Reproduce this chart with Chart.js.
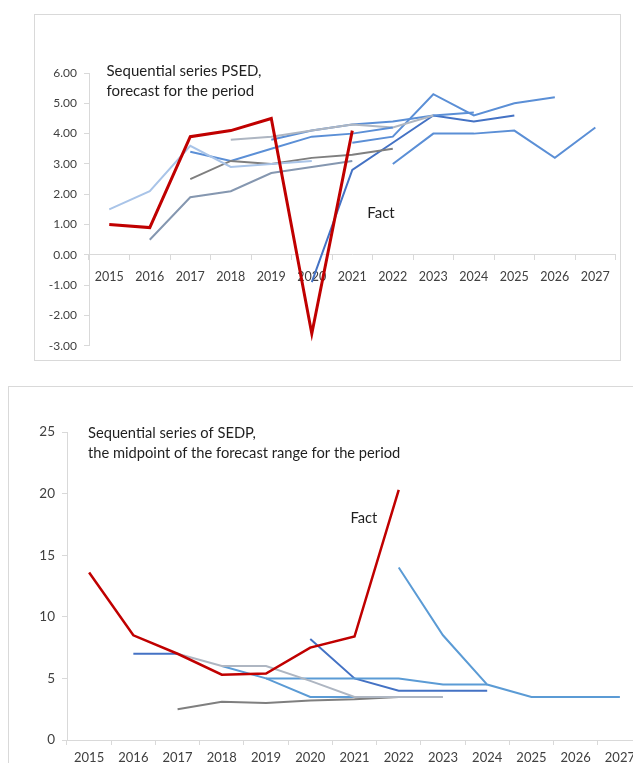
<!DOCTYPE html>
<html>
<head>
<meta charset="utf-8">
<script src="https://cdn.jsdelivr.net/npm/chart.js@4.4.0/dist/chart.umd.min.js"></script>
<style>
html, body { margin: 0; padding: 0; background: #fff; overflow: hidden; width: 633px; height: 763px; }
.box { position: absolute; border: 1px solid #D9D9D9; background: #fff; }
#box1 { left: 34px; top: 14px; width: 585px; height: 345px; }
#box2 { left: 8px; top: 386px; width: 660px; height: 400px; }
</style>
</head>
<body>
<div class="box" id="box1"><canvas id="psed"></canvas></div>
<div class="box" id="box2"><canvas id="sedp"></canvas></div>
<script>
// years on both charts
const years = ['2015','2016','2017','2018','2019','2020','2021','2022','2023','2024','2025','2026','2027'];
const _ = null;

// top chart: PSED, forecast for the period
const psedTitle = ['Sequential series PSED,', 'forecast for the period'];
const psedFact  = [1.0, 0.9, 3.9, 4.1, 4.5, -2.6, 4.1, _, _, _, _, _, _];
const psedF2015 = [1.5, 2.1, 3.6, 2.9, 3.0, 3.1, _, _, _, _, _, _, _];
const psedF2016 = [_, 0.5, 1.9, 2.1, 2.7, 2.9, 3.1, _, _, _, _, _, _];
const psedF2017a = [_, _, 2.5, 3.1, 3.0, 3.2, 3.3, 3.5, _, _, _, _, _];
const psedF2017b = [_, _, 3.4, 3.1, 3.5, 3.9, 4.0, 4.2, _, _, _, _, _];
const psedF2018 = [_, _, _, 3.8, 3.9, 4.1, 4.3, 4.2, 4.6, _, _, _, _];
const psedF2019 = [_, _, _, _, 3.8, 4.1, 4.3, 4.4, 4.6, 4.7, _, _, _];
const psedF2020 = [_, _, _, _, _, -0.9, 2.8, 3.7, 4.6, 4.4, 4.6, _, _];
const psedF2021 = [_, _, _, _, _, _, 3.7, 3.9, 5.3, 4.6, 5.0, 5.2, _];
const psedF2022 = [_, _, _, _, _, _, _, 3.0, 4.0, 4.0, 4.1, 3.2, 4.2];

// bottom chart: SEDP, midpoint of the forecast range
const sedpTitle = ['Sequential series of SEDP,', 'the midpoint of the forecast range for the period'];
const sedpFact  = [13.6, 8.5, 7.0, 5.3, 5.4, 7.5, 8.4, 20.3, _, _, _, _, _];
const sedpF2016 = [_, 7.0, 7.0, _, _, _, _, _, _, _, _, _, _];
const sedpF2017 = [_, _, 7.0, 6.0, 6.0, 4.8, 3.5, 3.5, 3.5, _, _, _, _];
const sedpF2017g = [_, _, 2.5, 3.1, 3.0, 3.2, 3.3, 3.5, _, _, _, _, _];
const sedpF2018 = [_, _, _, 6.0, 5.0, 3.5, 3.5, _, _, _, _, _, _];
const sedpF2019 = [_, _, _, _, 5.0, 5.0, 5.0, 5.0, 4.5, 4.5, _, _, _];
const sedpF2020 = [_, _, _, _, _, 8.2, 5.0, 4.0, 4.0, 4.0, _, _, _];
const sedpF2022 = [_, _, _, _, _, _, _, 14.0, 8.5, 4.5, 3.5, 3.5, 3.5];

const red = '#C00000';
const axisColor = '#D9D9D9';
const tickFont = 'Lato';

function line(data, color, width) {
    return { data: data, borderColor: color, borderWidth: width || 2, pointRadius: 0, tension: 0, fill: false };
}

// titles and the "Fact" label, placed from the chart's own scales
const notes = {
    id: 'notes',
    afterDatasetsDraw(chart, args, o) {
        const { ctx, chartArea, scales } = chart;
        ctx.save();
        ctx.font = o.size + 'px Lato';
        ctx.fillStyle = '#1F1F1F';
        ctx.textBaseline = 'middle';
        o.title.forEach((t, i) => ctx.fillText(t, chartArea.left + o.dx, chartArea.top + o.dy + i * o.lh));
        ctx.fillText('Fact', scales.x.getPixelForValue(o.fact[0]) + o.fact[2], scales.y.getPixelForValue(o.fact[1]));
        ctx.restore();
    }
};

function xAxis(size, pad, extra) {
    return Object.assign({
        offset: true,
        grid: { offset: true, drawOnChartArea: false, drawTicks: true, tickLength: 5, color: axisColor },
        border: { color: axisColor },
        ticks: { color: '#404040', font: { family: tickFont, size: size }, maxRotation: 0, autoSkip: false, padding: pad }
    }, extra);
}

new Chart(document.getElementById('psed'), {
    type: 'line',
    data: {
        labels: years,
        datasets: [
            line(psedFact, red, 3),
            line(psedF2015, '#A9C4E8'),
            line(psedF2016, '#8597B0'),
            line(psedF2017a, '#7F7F7F'),
            line(psedF2017b, '#5B8FD6'),
            line(psedF2018, '#AEB6C2'),
            line(psedF2019, '#5B8FD6'),
            line(psedF2020, '#4472C4'),
            line(psedF2021, '#5B8FD6'),
            line(psedF2022, '#5B8FD6'),
        ],
    },
    options: {
        responsive: true,
        maintainAspectRatio: false,
        animation: false,
        events: [],
        layout: { padding: { top: 58, right: 4, bottom: 8, left: 0 } },
        scales: {
            x: xAxis(12.5, 10, { position: { y: 0 }, afterFit: s => { s.height = 0; } }),
            y: {
                min: -3, max: 6,
                grid: { drawOnChartArea: false, drawTicks: true, tickLength: 5, color: axisColor },
                border: { color: axisColor },
                ticks: { stepSize: 1, color: '#404040', padding: 7, font: { family: tickFont, size: 12 },
                    callback: v => v.toFixed(2) },
                afterFit: s => { s.width = 54; },
            },
        },
        plugins: {
            legend: { display: false },
            tooltip: { enabled: false },
            notes: { title: psedTitle, size: 15, dx: 17.5, dy: -1.5, lh: 20, fact: [6, 1.36, 15] },
        },
    },
    plugins: [notes],
});

new Chart(document.getElementById('sedp'), {
    type: 'line',
    data: {
        labels: years,
        datasets: [
            line(sedpFact, red, 2.5),
            line(sedpF2016, '#4472C4'),
            line(sedpF2017, '#AEB6C2'),
            line(sedpF2017g, '#7F7F7F'),
            line(sedpF2018, '#5B9BD5'),
            line(sedpF2019, '#5B9BD5'),
            line(sedpF2020, '#4472C4'),
            line(sedpF2022, '#5B9BD5'),
        ],
    },
    options: {
        responsive: true,
        maintainAspectRatio: false,
        animation: false,
        events: [],
        layout: { padding: { top: 45, right: 27, bottom: 17, left: 0 } },
        scales: {
            x: xAxis(13, 5, { afterFit: s => { s.height = 30; } }),
            y: {
                min: 0, max: 25,
                grid: { drawOnChartArea: false, drawTicks: true, tickLength: 5, color: axisColor },
                border: { color: axisColor },
                ticks: { stepSize: 5, color: '#404040', padding: 7, font: { family: tickFont, size: 13.5 } },
                afterFit: s => { s.width = 58; },
            },
        },
        plugins: {
            legend: { display: false },
            tooltip: { enabled: false },
            notes: { title: sedpTitle, size: 14.7, dx: 21, dy: 1.6, lh: 19.5, fact: [6, 18.0, -4] },
        },
    },
    plugins: [notes],
});
</script>
</body>
</html>
